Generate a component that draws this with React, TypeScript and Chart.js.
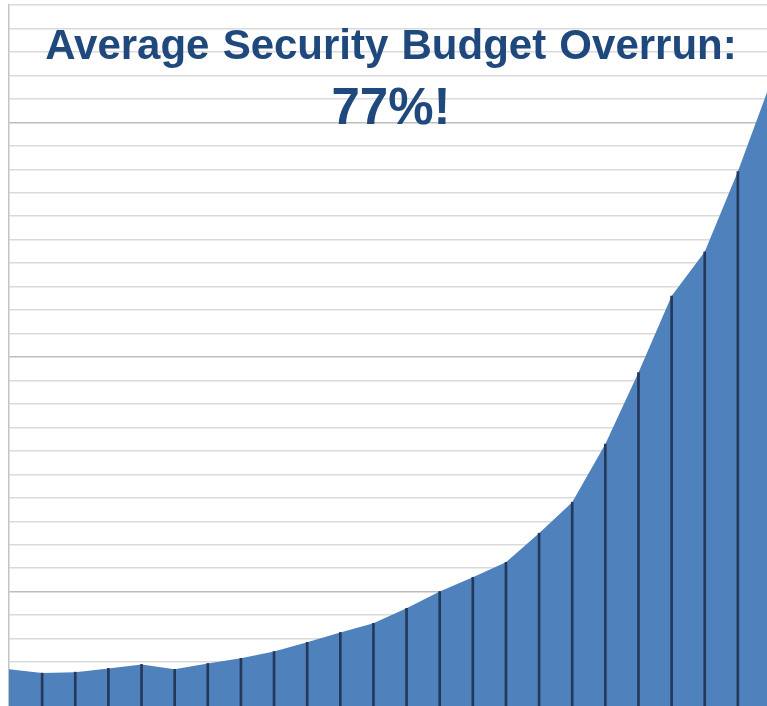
import React, { useEffect, useRef } from "react";
import { Chart, registerables } from "chart.js";

Chart.register(...registerables);

// Categories (one per project / sample)
const categories: string[] = [
  "1", "2", "3", "4", "5", "6", "7", "8", "9", "10", "11", "12",
  "13", "14", "15", "16", "17", "18", "19", "20", "21", "22", "23", "24",
];

// Budget overrun values
const overrunValues: number[] = [
  16.9, 15.3, 15.7, 17.3, 19.0, 16.9, 19.4, 21.6, 24.5, 28.4, 32.6, 36.5,
  42.9, 50.1, 56.1, 62.5, 74.9, 88.1, 112.9, 143.4, 176.0, 194.8, 229.0, 267.4,
];

// Axis range and gridline step
const yMin = 0;
const yMax = 300;
const yStep = 10;

const titleLine1 = "Average Security Budget Overrun:";
const titleLine2 = "77%!";

export default function App() {
  const canvasRef = useRef<HTMLCanvasElement | null>(null);

  useEffect(() => {
    if (!canvasRef.current) return;
    // the drop line of the first point sits under the axis line
    const dropLines = overrunValues.map((v, i) => (i === 0 ? null : v));
    const chart = new Chart(canvasRef.current, {
      type: "line",
      data: {
        labels: categories,
        datasets: [
          {
            type: "bar",
            label: "drop lines",
            data: dropLines,
            backgroundColor: "#24395a",
            barThickness: 2,
            order: 0,
          } as any,
          {
            type: "line",
            label: "Overrun",
            data: overrunValues,
            fill: "origin",
            backgroundColor: "#4f81bd",
            borderColor: "#4f81bd",
            borderWidth: 0,
            pointRadius: 0,
            tension: 0,
            order: 1,
          },
        ],
      },
      options: {
        responsive: false,
        animation: false,
        layout: { padding: { left: 9, top: 5, right: 1, bottom: 0 } },
        plugins: {
          legend: { display: false },
          title: { display: false },
          tooltip: { enabled: false },
        },
        scales: {
          x: {
            display: false,
            offset: false,
          },
          y: {
            min: yMin,
            max: yMax,
            ticks: { display: false, stepSize: yStep },
            grid: {
              drawTicks: false,
              lineWidth: 1.5,
              color: (ctx: any) =>
                ctx.tick && ctx.tick.value % 100 === 50 ? "#bdbdbd" : "#dadada",
            },
            border: { display: true, color: "#c4c4c4", width: 1.5 },
          },
        },
      },
    });
    return () => chart.destroy();
  }, []);

  const titleStyle: React.CSSProperties = {
    position: "absolute",
    left: 0,
    width: 782,
    textAlign: "center",
    fontFamily: "'Liberation Sans', Arial, sans-serif",
    fontWeight: "bold",
    color: "#1f497d",
    lineHeight: 1,
    whiteSpace: "nowrap",
  };

  return (
    <div
      style={{
        position: "fixed",
        left: 0,
        top: 0,
        width: 767,
        height: 706,
        overflow: "hidden",
        background: "#ffffff",
      }}
    >
      <canvas ref={canvasRef} width={772} height={709} style={{ display: "block" }} />
      <div style={{ ...titleStyle, top: 24.4, fontSize: 42, wordSpacing: 1.5 }}>{titleLine1}</div>
      <div style={{ ...titleStyle, top: 81, fontSize: 51 }}>{titleLine2}</div>
    </div>
  );
}
